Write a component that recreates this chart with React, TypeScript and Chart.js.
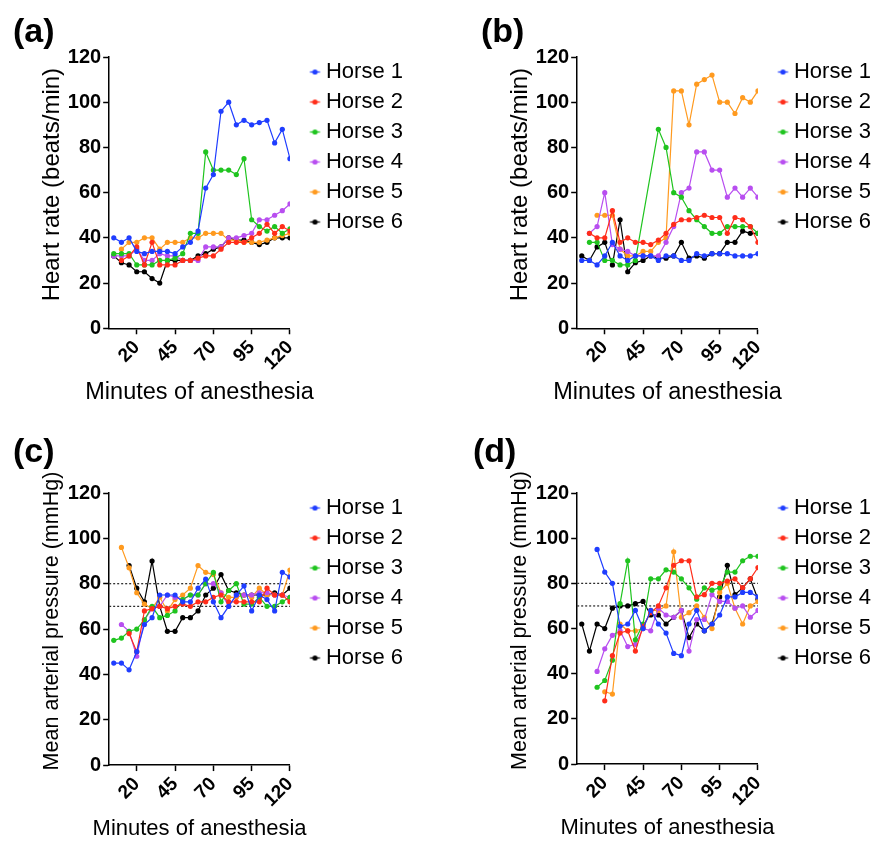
import React, { useEffect, useRef } from 'react';
import { Chart, registerables } from 'chart.js';

Chart.register(...registerables);

const FONT = "'Liberation Sans', Arial, Helvetica, sans-serif";

// ---- shared axes / categories ----
const MINUTES = [5, 10, 15, 20, 25, 30, 35, 40, 45, 50, 55, 60, 65, 70, 75, 80, 85, 90, 95, 100, 105, 110, 115, 120];
const X_TICKS = [20, 45, 70, 95, 120];
const X_MIN = 2;
const X_MAX = 120;
const Y_MIN = 0;
const Y_MAX = 120;
const Y_STEP = 10;
const X_TITLE = 'Minutes of anesthesia';
const HORSES = ['Horse 1', 'Horse 2', 'Horse 3', 'Horse 4', 'Horse 5', 'Horse 6'];
const COLORS = ['#1f3dff', '#ff2d1a', '#1fc41f', '#b84ef0', '#ff9a1f', '#000000'];
const REF_LINES = [80, 70];

// ---- (a) heart rate ----
const A_H1 = [40, 38, 40, 34, 33, 34, 34, 34, 33, 36, 38, 43, 62, 68, 96, 100, 90, 92, 90, 91, 92, 82, 88, 75];
const A_H2 = [null, 30, 32, 36, 28, 38, 28, 28, 28, 30, 30, 31, 32, 32, 35, 38, 38, 38, 40, 42, 46, 42, 45, 43];
const A_H3 = [33, 33, 33, 28, 28, 28, 30, 30, 31, 33, 42, 42, 78, 70, 70, 70, 68, 75, 48, 45, 43, 45, 42, 44];
const A_H4 = [32, 32, 32, 35, 30, 30, 33, 32, 32, 30, 30, 30, 36, 36, 36, 40, 40, 41, 42, 48, 48, 50, 52, 55];
const A_H5 = [null, 35, 38, 38, 40, 40, 35, 38, 38, 38, 40, 40, 42, 42, 42, 39, 39, 38, 38, 38, 39, 40, 41, 42];
const A_H6 = [32, 29, 28, 25, 25, 22, 20, 30, 30, 30, 30, 32, 33, 35, 36, 40, 39, 39, 38, 37, 38, 40, 40, 40];

// ---- (b) heart rate ----
const B_H1 = [30, 30, 28, 32, 38, 32, 30, 32, 32, 32, 30, 32, 32, 30, 30, 33, 32, 33, 33, 33, 32, 32, 32, 33];
const B_H2 = [null, 42, 40, 40, 52, 38, 40, 38, 38, 37, 39, 42, 46, 48, 48, 49, 50, 49, 49, 42, 49, 48, 45, 38];
const B_H3 = [null, 38, 38, 30, 30, 28, 28, 30, null, null, 88, 80, 60, 58, 52, 48, 45, 42, 42, 45, 45, 45, 45, 42];
const B_H4 = [null, 42, 45, 60, 37, 35, 34, 32, 32, 32, 32, 38, 45, 60, 62, 78, 78, 70, 70, 58, 62, 58, 62, 58];
const B_H5 = [null, null, 50, 50, 50, 35, 32, 32, 34, 34, 38, 40, 105, 105, 90, 108, 110, 112, 100, 100, 95, 102, 100, 105];
const B_H6 = [32, 30, 36, 38, 28, 48, 25, 29, 30, 32, 31, 31, 32, 38, 31, 32, 31, 33, 33, 38, 38, 43, 42, 42];

// ---- (c) mean arterial pressure ----
const C_H1 = [45, 45, 42, 50, 62, 65, 75, 75, 75, 72, 72, 78, 82, 72, 65, 70, 75, 79, 68, 75, 73, 68, 85, 83];
const C_H2 = [null, null, 58, 50, 68, 69, 70, 69, 70, 71, 70, 72, 72, 74, 75, 72, 72, 72, 72, 72, 78, 75, 75, 72];
const C_H3 = [55, 56, 59, 60, 64, 70, 65, 66, 68, 73, 75, 75, 80, 85, 72, 77, 80, 71, 71, 74, 70, 70, 72, 74];
const C_H4 = [null, 62, 59, 48, 64, 69, 70, 75, 74, 73, 75, 75, 80, 80, 76, 70, 75, 75, 75, 76, 76, 75, 75, 74];
const C_H5 = [null, 96, 87, 76, 71, 69, 74, 68, 73, 75, 78, 88, 85, 84, 76, 74, 74, 75, 74, 78, 75, 75, 75, 86];
const C_H6 = [null, null, 88, 78, 72, 90, 70, 59, 59, 65, 65, 68, 75, 78, 84, 77, 76, 75, 75, 75, 75, 76, 75, 78];

// ---- (d) mean arterial pressure ----
const D_H1 = [null, null, 95, 85, 80, 61, 62, 68, 60, 68, 62, 58, 49, 48, 62, 68, 59, 62, 66, 74, 74, 76, 76, 74];
const D_H2 = [null, null, null, 28, 48, 58, 59, 50, 61, 67, 70, 78, 88, 90, 90, 74, 75, 80, 80, 81, 82, 78, 82, 87];
const D_H3 = [null, null, 34, 37, 46, 71, 90, 55, 62, 82, 82, 86, 85, 82, 78, 73, 78, 77, 78, 85, 85, 90, 92, 92];
const D_H4 = [null, null, 41, 51, 57, 59, 52, 53, 60, 59, 69, 66, 65, 68, 50, 64, 64, 75, 72, 72, 69, 70, 65, 68];
const D_H5 = [null, null, null, 32, 31, 62, 59, 59, 60, 68, 68, 70, 94, 65, 67, 70, 65, 60, 76, 80, 69, 62, 70, 72];
const D_H6 = [62, 50, 62, 60, 69, 70, 70, 71, 72, 66, 66, 62, 65, 68, 56, 62, 59, 62, 74, 88, 75, 78, 82, 73];

type PanelDef = {
  tag: string;
  yTitle: string;
  series: (number | null)[][];
  refLines: boolean;
  left: number;
  top: number;
  yTitleSize: number;
  xTitleSize: number;
  padLeft: number;
  padBottom: number;
  tagLeft: number;
  tagTop: number;
};

const PANELS: PanelDef[] = [
  { tag: '(a)', yTitle: 'Heart rate (beats/min)', series: [A_H1, A_H2, A_H3, A_H4, A_H5, A_H6], refLines: false,
    left: 0, top: 0, yTitleSize: 24, xTitleSize: 23.5, padLeft: 33, padBottom: 7, tagLeft: 13, tagTop: 10 },
  { tag: '(b)', yTitle: 'Heart rate (beats/min)', series: [B_H1, B_H2, B_H3, B_H4, B_H5, B_H6], refLines: false,
    left: 468, top: 0, yTitleSize: 24, xTitleSize: 23.5, padLeft: 33, padBottom: 7, tagLeft: 481, tagTop: 10 },
  { tag: '(c)', yTitle: 'Mean arterial pressure (mmHg)', series: [C_H1, C_H2, C_H3, C_H4, C_H5, C_H6], refLines: true,
    left: 0, top: 436, yTitleSize: 21.5, xTitleSize: 22, padLeft: 36, padBottom: 8, tagLeft: 13, tagTop: 430 },
  { tag: '(d)', yTitle: 'Mean arterial pressure (mmHg)', series: [D_H1, D_H2, D_H3, D_H4, D_H5, D_H6], refLines: true,
    left: 468, top: 436, yTitleSize: 21.5, xTitleSize: 22, padLeft: 36, padBottom: 9, tagLeft: 473, tagTop: 430 },
];

const CANVAS_W = 413;
const CANVAS_H = 420;
const MARK_BOX = 17; // legend box width reserved before text

// legend glyph: short line with a dot, drawn in the right part of the image
function makeMarker(color: string): HTMLCanvasElement {
  const c = document.createElement('canvas');
  c.width = 30;
  c.height = 7;
  const g = c.getContext('2d')!;
  g.strokeStyle = color;
  g.lineWidth = 1.3;
  g.beginPath();
  g.moveTo(18.5, 3.5);
  g.lineTo(28.5, 3.5);
  g.stroke();
  g.fillStyle = color;
  g.beginPath();
  g.arc(23.5, 3.5, 2.6, 0, Math.PI * 2);
  g.fill();
  return c;
}

const legendShift = {
  id: 'legendShift',
  afterLayout(chart: any) {
    const l = chart.legend;
    if (l) {
      l.top -= 4;
      l.bottom -= 4;
    }
  },
};

// axis titles drawn at full width (Chart.js would squeeze them to the axis length)
const axisTitles = {
  id: 'axisTitles',
  afterDraw(chart: any, _args: any, opts: any) {
    const { ctx, chartArea } = chart;
    ctx.save();
    ctx.fillStyle = '#000';
    ctx.textAlign = 'center';
    ctx.textBaseline = 'middle';
    ctx.font = `${opts.xSize}px ${FONT}`;
    ctx.fillText(opts.xText, (chartArea.left + chartArea.right) / 2, chartArea.bottom + 64);
    ctx.font = `${opts.ySize}px ${FONT}`;
    ctx.translate(chartArea.left - 57, (chartArea.top + chartArea.bottom) / 2 - 8);
    ctx.rotate(-Math.PI / 2);
    ctx.fillText(opts.yText, 0, 0);
    ctx.restore();
  },
};

function Panel({ def }: { def: PanelDef }) {
  const ref = useRef<HTMLCanvasElement | null>(null);

  useEffect(() => {
    if (!ref.current) return;
    const markers = COLORS.map(makeMarker);
    const datasets: any[] = def.series.map((vals, i) => ({
      label: HORSES[i],
      data: MINUTES.map((m, j) => ({ x: m, y: vals[j] })),
      borderColor: COLORS[i],
      backgroundColor: COLORS[i],
      pointBackgroundColor: COLORS[i],
      pointBorderWidth: 0,
      pointRadius: 2.6,
      borderWidth: 1.2,
      spanGaps: true,
    }));
    if (def.refLines) {
      REF_LINES.forEach((v) => {
        datasets.push({
          label: '',
          data: [{ x: X_MIN, y: v }, { x: X_MAX, y: v }],
          borderColor: '#222',
          borderWidth: 1.2,
          borderDash: [2, 2],
          pointRadius: 0,
        });
      });
    }
    const tickFontX = { family: FONT, size: 19, weight: 'bold' as const };
    const tickFontY = { family: FONT, size: 20, weight: 'bold' as const };
    const gridOpts = { drawOnChartArea: false, drawTicks: true, tickLength: 6, tickWidth: 1.5, tickColor: '#000' };
    const chart = new Chart(ref.current, {
      type: 'line',
      data: { datasets },
      plugins: [legendShift, axisTitles],
      options: {
        animation: false,
        responsive: false,
        devicePixelRatio: 1,
        layout: { padding: { top: 57, left: def.padLeft, right: 0, bottom: def.padBottom } },
        plugins: {
          tooltip: { enabled: false },
          axisTitles: { xText: X_TITLE, yText: def.yTitle, xSize: def.xTitleSize, ySize: def.yTitleSize },
          legend: {
            position: 'right',
            align: 'start',
            maxWidth: 140,
            labels: {
              usePointStyle: true,
              pointStyleWidth: MARK_BOX,
              padding: 8,
              color: '#000',
              font: { family: FONT, size: 22 },
              generateLabels: (c: any) =>
                (Chart.defaults.plugins.legend.labels.generateLabels as any)(c)
                  .filter((it: any) => it.datasetIndex < HORSES.length)
                  .map((it: any) => ({ ...it, pointStyle: markers[it.datasetIndex] })),
            },
          },
        },
        scales: {
          x: {
            type: 'linear',
            min: X_MIN,
            max: X_MAX,
            afterBuildTicks: (s: any) => {
              s.ticks = X_TICKS.map((v) => ({ value: v }));
            },
            ticks: { autoSkip: false, minRotation: 45, maxRotation: 45, padding: 2, color: '#000', font: tickFontX },
            grid: gridOpts,
            border: { color: '#000', width: 1.5 },
            // space reserved for the title, which the axisTitles plugin draws
            title: {
              display: true,
              text: ' ',
              font: { family: FONT, size: def.xTitleSize },
              padding: { top: 4, bottom: 4 },
            },
          },
          y: {
            type: 'linear',
            min: Y_MIN,
            max: Y_MAX,
            ticks: {
              stepSize: Y_STEP,
              padding: 2,
              color: '#000',
              font: tickFontY,
              callback: (v: any) => (Number(v) % 20 === 0 ? String(v) : ''),
            },
            grid: gridOpts,
            border: { color: '#000', width: 1.5 },
            title: {
              display: true,
              text: ' ',
              font: { family: FONT, size: def.yTitleSize },
              padding: { top: 2, bottom: 2 },
            },
          },
        },
      } as any,
    });
    return () => chart.destroy();
  }, [def]);

  return (
    <>
      <canvas
        ref={ref}
        width={CANVAS_W}
        height={CANVAS_H}
        style={{ position: 'absolute', left: def.left, top: def.top, width: CANVAS_W, height: CANVAS_H, display: 'block' }}
      />
      <div
        style={{
          position: 'absolute',
          left: def.tagLeft,
          top: def.tagTop,
          fontFamily: FONT,
          fontWeight: 'bold',
          fontSize: 34,
          lineHeight: '40px',
          color: '#000',
        }}
      >
        {def.tag}
      </div>
    </>
  );
}

export default function App() {
  return (
    <div
      style={{
        position: 'absolute',
        left: 0,
        top: 0,
        width: 872,
        height: 841,
        overflow: 'hidden',
        background: '#fff',
      }}
    >
      {PANELS.map((p) => (
        <Panel key={p.tag} def={p} />
      ))}
    </div>
  );
}
